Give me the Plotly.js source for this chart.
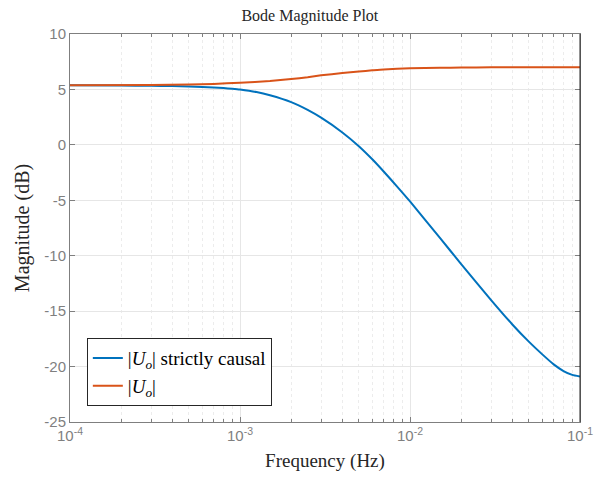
<!DOCTYPE html>
<html>
<head>
<meta charset="utf-8">
<script src="https://cdn.plot.ly/plotly-3.0.1.min.js"></script>
<style>html,body{margin:0;padding:0;background:#fff;}#chart{width:604px;height:477px;}</style>
</head>
<body>
<div id="chart"></div>
<script>
// Frequencies (Hz) and magnitudes (dB)
const freqBlue = [1e-4, 2e-4, 3e-4, 4e-4, 5e-4, 6e-4, 7e-4, 8e-4, 9e-4, 1e-3, 1.25e-3, 1.5e-3, 2e-3, 2.5e-3, 3e-3, 4e-3, 5e-3, 6e-3, 7e-3, 8.5e-3, 1e-2, 1.5e-2, 2e-2, 3e-2, 4e-2, 5e-2, 6e-2, 7e-2, 8e-2, 9e-2, 1e-1];
const magBlue  = [5.37, 5.35, 5.33, 5.30, 5.27, 5.23, 5.18, 5.12, 5.06, 4.99, 4.76, 4.47, 3.85, 3.15, 2.45, 1.12, -0.12, -1.3, -2.4, -3.85, -5.1, -8.4, -10.75, -14.0, -16.2, -17.75, -18.9, -19.8, -20.4, -20.75, -20.9];
const freqOrange = [1e-4, 3e-4, 5e-4, 7e-4, 1e-3, 1.5e-3, 2e-3, 2.5e-3, 3e-3, 4e-3, 5e-3, 6e-3, 7e-3, 1e-2, 1.5e-2, 2e-2, 3e-2, 5e-2, 1e-1];
const magOrange  = [5.38, 5.4, 5.44, 5.5, 5.6, 5.76, 5.93, 6.1, 6.27, 6.48, 6.62, 6.72, 6.8, 6.9, 6.95, 6.97, 6.99, 7.0, 7.0];

const seriesNames = ['|<i>U</i><sub><i>o</i></sub>| strictly causal', '|<i>U</i><sub><i>o</i></sub>|'];

const xTickVals = [1e-4, 1e-3, 1e-2, 1e-1];
const xTickText = ['10<sup>-4</sup>', '10<sup>-3</sup>', '10<sup>-2</sup>', '10<sup>-1</sup>'];
const xMinorVals = [2e-4,3e-4,4e-4,5e-4,6e-4,7e-4,8e-4,9e-4,2e-3,3e-3,4e-3,5e-3,6e-3,7e-3,8e-3,9e-3,2e-2,3e-2,4e-2,5e-2,6e-2,7e-2,8e-2,9e-2];
const yTickVals = [-25, -20, -15, -10, -5, 0, 5, 10];
const yTickText = ['-25', '-20', '-15', '-10', '-5', '0', '5', '10'];

const serif = 'Liberation Serif, DejaVu Serif, serif';
const sans = 'Liberation Sans, Arial, sans-serif';

const traces = [
  {x: freqBlue, y: magBlue, type: 'scatter', mode: 'lines', name: seriesNames[0],
   line: {color: '#0072BD', width: 2, shape: 'spline', smoothing: 0.5}},
  {x: freqOrange, y: magOrange, type: 'scatter', mode: 'lines', name: seriesNames[1],
   line: {color: '#D95319', width: 2, shape: 'spline', smoothing: 0.5}}
];

const layout = {
  width: 604, height: 477,
  margin: {l: 70, r: 24, t: 34, b: 55},
  paper_bgcolor: '#ffffff', plot_bgcolor: '#ffffff',
  showlegend: true,
  title: {text: 'Bode Magnitude Plot', font: {family: serif, size: 16, color: '#262626'},
          x: 0.513, xanchor: 'center', y: 0.968, yanchor: 'middle'},
  xaxis: {
    type: 'log', range: [-4, -1], autorange: false,
    tickmode: 'array', tickvals: xTickVals, ticktext: xTickText,
    ticks: 'inside', ticklen: 5, tickcolor: '#7f7f7f', tickwidth: 1,
    showline: true, linecolor: '#7f7f7f', linewidth: 1, mirror: 'ticks',
    showgrid: true, gridcolor: '#e6e6e6', gridwidth: 1,
    zeroline: false,
    tickfont: {family: sans, size: 15, color: '#7f7f7f'},
    minor: {tickmode: 'array', tickvals: xMinorVals, ticks: 'inside', ticklen: 3, tickcolor: '#7f7f7f',
            showgrid: true, gridcolor: '#ececec', griddash: 'dot', gridwidth: 1},
    title: {text: 'Frequency (Hz)', font: {family: serif, size: 19, color: '#262626'}, standoff: 10}
  },
  yaxis: {
    range: [-25, 10], autorange: false,
    tickmode: 'array', tickvals: yTickVals, ticktext: yTickText,
    ticks: 'inside', ticklen: 5, tickcolor: '#7f7f7f', tickwidth: 1,
    showline: true, linecolor: '#7f7f7f', linewidth: 1, mirror: 'ticks',
    showgrid: true, gridcolor: '#e6e6e6', gridwidth: 1,
    zeroline: false,
    tickfont: {family: sans, size: 15, color: '#7f7f7f'},
    title: {text: 'Magnitude (dB)', font: {family: serif, size: 20, color: '#262626'}, standoff: 9}
  },
  legend: {
    x: 0.033, y: 0.041, xanchor: 'left', yanchor: 'bottom',
    bgcolor: '#ffffff', bordercolor: '#262626', borderwidth: 1,
    font: {family: serif, size: 19, color: '#000000'},
    tracegroupgap: 0, itemwidth: 30
  },
  shapes: [
    {type: 'line', xref: 'paper', yref: 'paper', x0: 1, x1: 1, y0: 0, y1: 1,
     line: {color: '#262626', width: 1}}
  ]
};

Plotly.newPlot('chart', traces, layout, {displayModeBar: false, staticPlot: true});
</script>
</body>
</html>
